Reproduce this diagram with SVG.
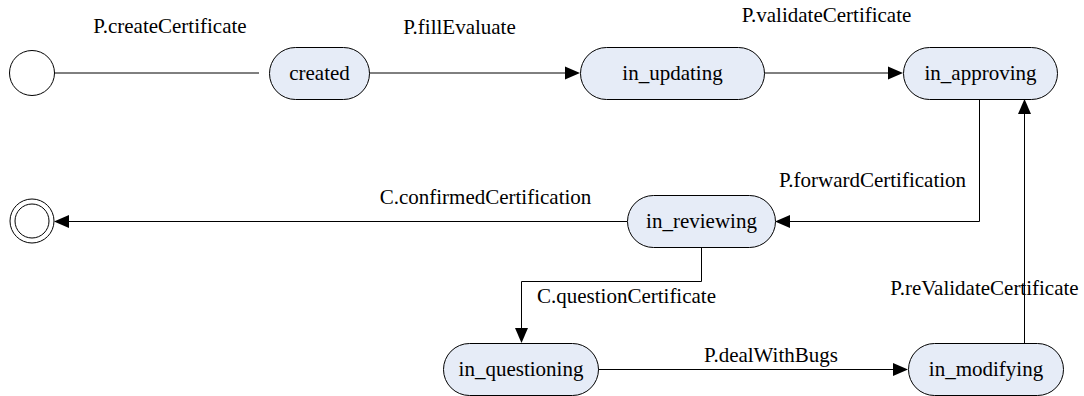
<svg xmlns="http://www.w3.org/2000/svg" width="1084" height="396" viewBox="0 0 1084 396">
<style>
.node rect{fill:#e6ecf7;stroke:#000;stroke-width:1}
.circ{fill:#fff;stroke:#000;stroke-width:1}
.edge{fill:none;stroke:#000;stroke-width:1}
.head{fill:#000;stroke:none}
</style>
<rect width="1084" height="396" fill="#fff"/>
<g id="connectors">
<path class="edge" d="M54,73 H259"/>
<path class="edge" d="M369,73 H566"/>
<polygon class="head" points="580,73 565,66.5 565,79.5"/>
<path class="edge" d="M764,73 H889"/>
<polygon class="head" points="903,73 888,66.5 888,79.5"/>
<path class="edge" d="M979.5,99 V221.5 H789"/>
<polygon class="head" points="775,221.5 790,215 790,228"/>
<path class="edge" d="M627,221.5 H68"/>
<polygon class="head" points="54,221.5 69,215 69,228"/>
<path class="edge" d="M701.5,247 V281.5 H521.5 V329"/>
<polygon class="head" points="521.5,343 515,328 528,328"/>
<path class="edge" d="M598,369.5 H894"/>
<polygon class="head" points="908,369.5 893,363 893,376"/>
<path class="edge" d="M1024.5,343 V113"/>
<polygon class="head" points="1024.5,99 1018,114 1031,114"/>
<text x="170" y="33" font-family="Liberation Serif" font-size="21" text-anchor="middle">P.createCertificate</text>
<text x="459.5" y="34" font-family="Liberation Serif" font-size="21" text-anchor="middle">P.fillEvaluate</text>
<text x="826.5" y="22" font-family="Liberation Serif" font-size="21" text-anchor="middle">P.validateCertificate</text>
<text x="872.5" y="187" font-family="Liberation Serif" font-size="21" text-anchor="middle">P.forwardCertification</text>
<text x="485.5" y="204" font-family="Liberation Serif" font-size="21" text-anchor="middle">C.confirmedCertification</text>
<text x="626.5" y="303" font-family="Liberation Serif" font-size="21" text-anchor="middle">C.questionCertificate</text>
<text x="771" y="362" font-family="Liberation Serif" font-size="21" text-anchor="middle">P.dealWithBugs</text>
<text x="984.5" y="295" font-family="Liberation Serif" font-size="21" text-anchor="middle">P.reValidateCertificate</text>
</g>
<g id="initial"><circle class="circ" cx="32" cy="73" r="22.5"/></g>
<g id="final"><circle class="circ" cx="32" cy="221" r="22"/><circle class="circ" cx="32" cy="221" r="17"/></g>
<g id="created" class="node"><rect x="269.5" y="47.5" width="100" height="52" rx="26"/><text x="319.5" y="80" font-family="Liberation Serif" font-size="21" text-anchor="middle">created</text></g>
<g id="in_updating" class="node"><rect x="580.5" y="47.5" width="184" height="52" rx="26"/><text x="672.5" y="80" font-family="Liberation Serif" font-size="21" text-anchor="middle">in_updating</text></g>
<g id="in_approving" class="node"><rect x="903.5" y="47.5" width="154" height="52" rx="26"/><text x="980.5" y="80" font-family="Liberation Serif" font-size="21" text-anchor="middle">in_approving</text></g>
<g id="in_reviewing" class="node"><rect x="627.5" y="195.5" width="148" height="52" rx="26"/><text x="701.5" y="228" font-family="Liberation Serif" font-size="21" text-anchor="middle">in_reviewing</text></g>
<g id="in_questioning" class="node"><rect x="443.5" y="343.5" width="155" height="52" rx="26"/><text x="521" y="376" font-family="Liberation Serif" font-size="21" text-anchor="middle">in_questioning</text></g>
<g id="in_modifying" class="node"><rect x="908.5" y="343.5" width="155" height="52" rx="26"/><text x="986" y="376" font-family="Liberation Serif" font-size="21" text-anchor="middle">in_modifying</text></g>
</svg>
